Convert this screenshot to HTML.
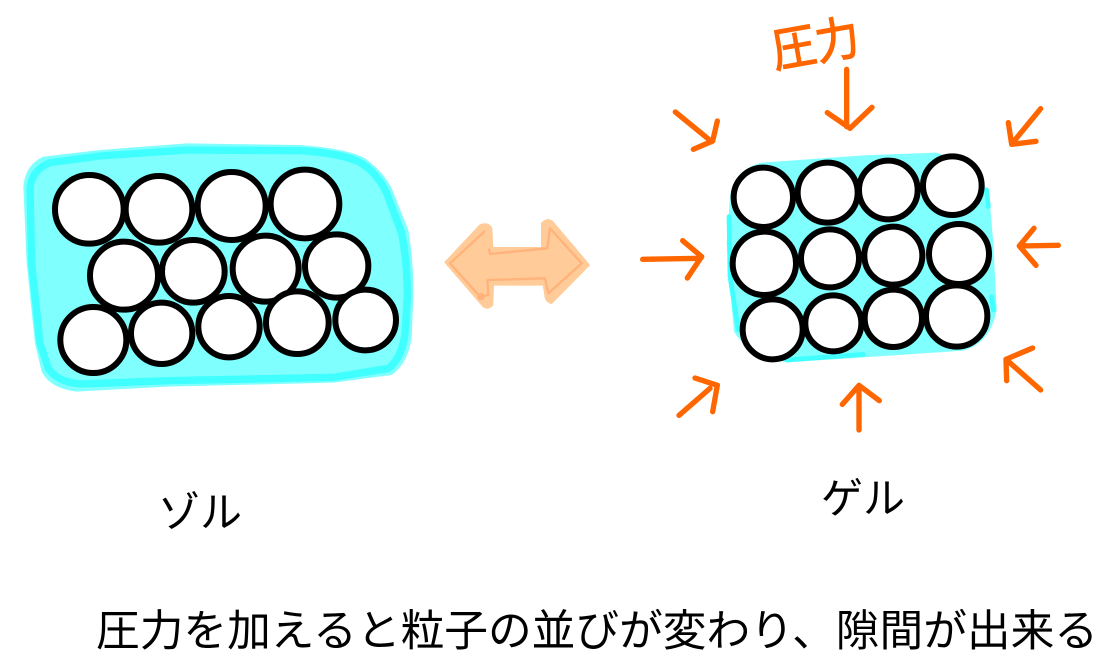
<!DOCTYPE html>
<html lang="ja">
<head>
<meta charset="utf-8">
<style>
html,body{margin:0;padding:0;background:#fff;width:1118px;height:672px;overflow:hidden}
svg{display:block}
text{font-family:"Liberation Sans","Noto Sans CJK JP",sans-serif;fill:#000}
</style>
</head>
<body>
<svg width="1118" height="672" viewBox="0 0 1118 672" xmlns="http://www.w3.org/2000/svg">
<rect width="1118" height="672" fill="#fff"/>

<!-- Sol -->
<g transform="translate(0,130) scale(0.33333)">
  <path d="M70,170 Q75,105 130,80 L300,60 L560,40 L900,45 Q1040,55 1095,85 Q1150,125 1175,175 L1225,300 Q1242,400 1240,500 L1235,620 Q1225,700 1175,735 L1000,758 L500,770 L230,785 Q150,775 125,725 L105,640 L80,400 Z" fill="#80ffff"/>
  <path d="M90,175 Q95,120 150,98 L300,78 L560,60 L900,62 Q1030,70 1085,100 Q1135,135 1160,190 L1205,310 Q1222,400 1222,500 L1215,610 Q1205,685 1165,715 L1000,742 L500,752 L240,762 Q170,755 145,715 L120,640 L95,400 Z" fill="none" stroke="#40ffff" stroke-width="22" stroke-linejoin="round"/>
  <g fill="#fff" stroke="#000" stroke-width="18">
    <circle cx="268" cy="238" r="103"/>
    <circle cx="477" cy="238" r="100"/>
    <circle cx="695" cy="228" r="102"/>
    <circle cx="915" cy="222" r="103"/>
    <circle cx="1010" cy="408" r="95"/>
    <circle cx="797" cy="416" r="99"/>
    <circle cx="580" cy="424" r="94"/>
    <circle cx="372" cy="437" r="102"/>
    <circle cx="280" cy="630" r="99"/>
    <circle cx="485" cy="610" r="92"/>
    <circle cx="687" cy="590" r="92"/>
    <circle cx="892" cy="578" r="94"/>
    <circle cx="1097" cy="570" r="91"/>
  </g>
</g>

<!-- Double arrow -->
<g transform="translate(430,200) scale(0.33333)">
  <path d="M45,187 L150,75 Q175,65 185,85 L188,143 L335,143 L335,70 Q350,52 368,65 L478,195 L365,310 Q345,305 345,285 L340,255 L190,255 L188,315 Q175,330 160,320 Z" fill="#ffcc99" stroke="#ffcc99" stroke-width="4" stroke-linejoin="round"/>
  <g fill="none" stroke="#ffb27a" stroke-width="7" stroke-linejoin="round" stroke-linecap="round">
    <path d="M163,95 L60,190 L150,290 L175,285 L172,240 L345,235 L355,280 L455,190 L360,85 L352,145 L180,162 L177,148"/>
  </g>
  <circle cx="153" cy="290" r="11" fill="#ffb27a"/>
</g>

<!-- Gel -->
<g transform="translate(630,10) scale(0.33333)">
  <path d="M300,560 Q310,480 395,458 L700,436 L920,428 Q1060,480 1078,560 L1090,700 L1100,900 Q1080,1000 1000,1022 L700,1042 L470,1057 Q350,1030 312,965 L300,830 L290,700 Z" fill="#80ffff"/>
  <path d="M297,620 L300,800 L325,960 M470,1050 L700,1033 M1085,860 L1090,900 M1070,540 L1075,590" fill="none" stroke="#40ffff" stroke-width="14" stroke-linecap="round"/>
  <g fill="#fff" stroke="#000" stroke-width="18">
    <circle cx="400" cy="562" r="89"/>
    <circle cx="593" cy="548" r="90"/>
    <circle cx="775" cy="540" r="88"/>
    <circle cx="967" cy="527" r="88"/>
    <circle cx="987" cy="732" r="90"/>
    <circle cx="790" cy="737" r="87"/>
    <circle cx="600" cy="745" r="87"/>
    <circle cx="403" cy="760" r="95"/>
    <circle cx="980" cy="918" r="92"/>
    <circle cx="790" cy="925" r="86"/>
    <circle cx="610" cy="940" r="84"/>
    <circle cx="428" cy="958" r="90"/>
  </g>
  <g fill="none" stroke="#ff6600" stroke-width="16" stroke-linecap="round" stroke-linejoin="round">
    <path d="M650,178 L650,350 M592,308 L660,355 L726,292"/>
    <path d="M136,306 L245,395 M262,333 L248,393 L190,418"/>
    <path d="M1232,296 L1145,402 M1135,338 L1145,403 L1218,394"/>
    <path d="M38,748 L212,745 M158,692 L215,740 L172,804"/>
    <path d="M1285,706 L1168,708 M1212,655 L1168,708 L1218,766"/>
    <path d="M1232,1140 L1128,1048 M1208,1014 L1128,1048 L1130,1112"/>
    <path d="M687,1260 L687,1128 M637,1183 L687,1126 L748,1172"/>
    <path d="M147,1216 L240,1135 M195,1104 L262,1126 L248,1205"/>
  </g>
</g>

<text transform="translate(775,68) rotate(-10) scale(1,1.08)" font-size="44" style="fill:#ff6600;stroke:#ff6600;stroke-width:1.2">圧力</text>

<text x="158" y="527" font-size="42">ゾル</text>
<text x="821" y="513" font-size="42">ゲル</text>
<text x="96" y="646" font-size="43.7" textLength="1002" lengthAdjust="spacing">圧力を加えると粒子の並びが変わり、隙間が出来る</text>
</svg>
</body>
</html>
